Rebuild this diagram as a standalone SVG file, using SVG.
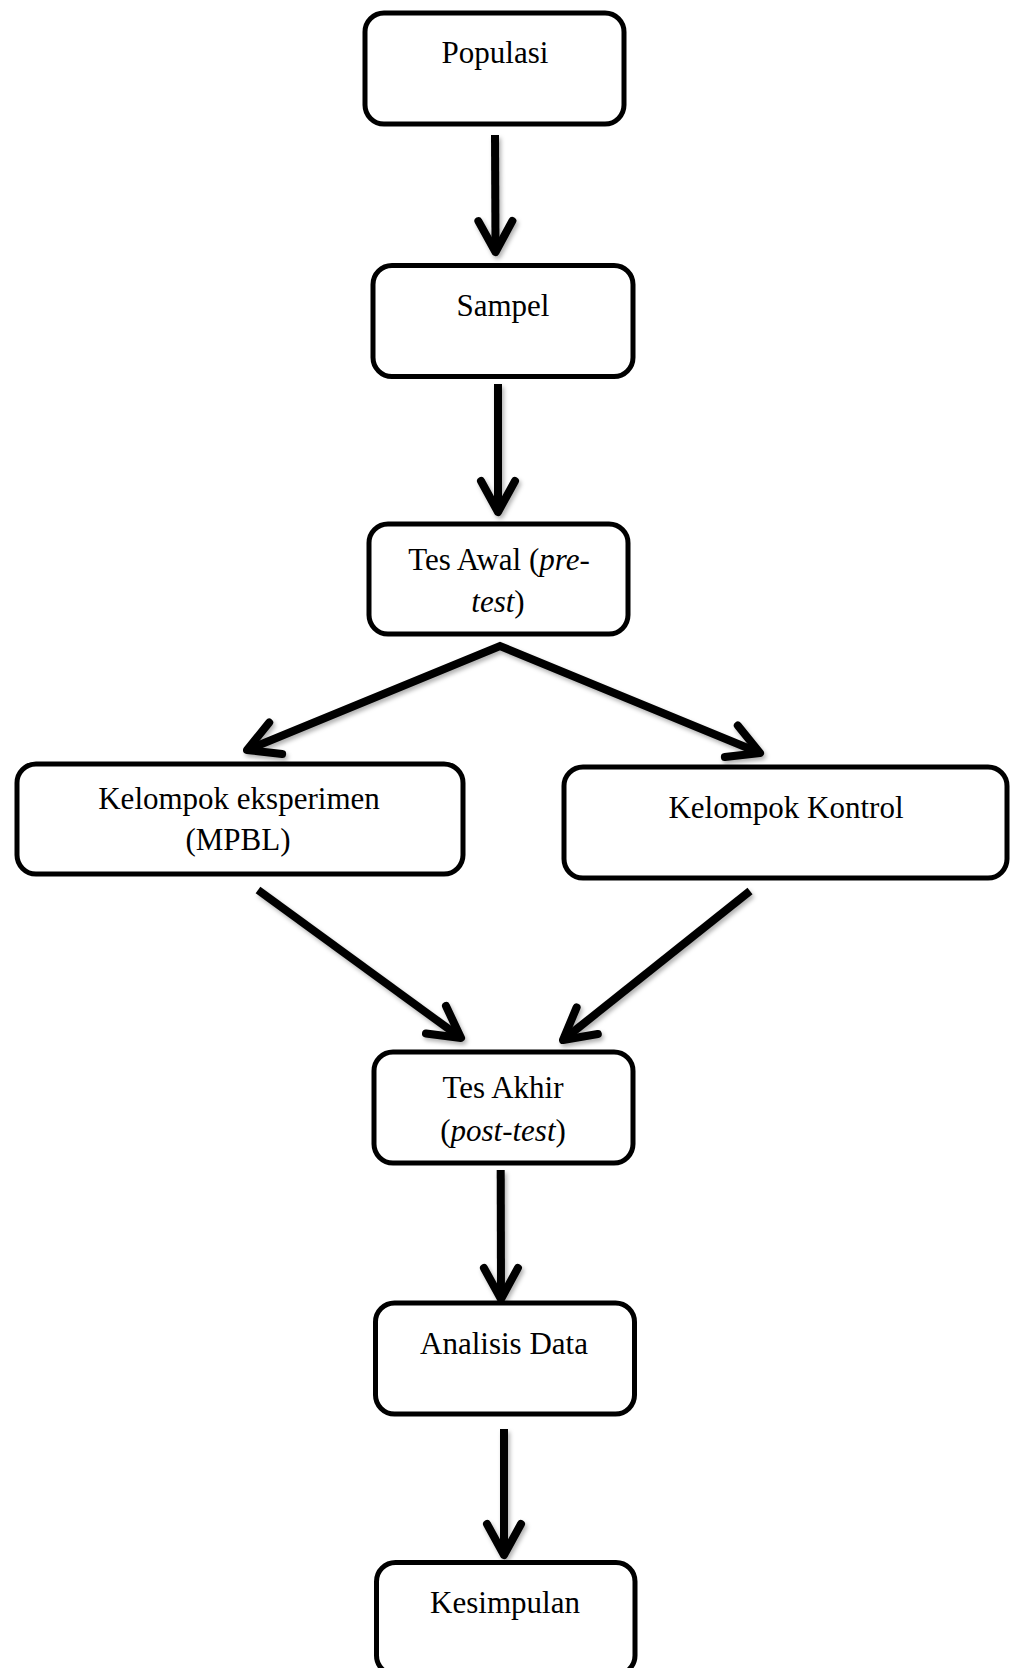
<svg xmlns="http://www.w3.org/2000/svg" width="1011" height="1668" viewBox="0 0 1011 1668">
<style>
.box{fill:#fff;stroke:#000;stroke-width:5}
.lbl{font-family:"Liberation Serif","Times New Roman",serif;font-size:31px;fill:#000;text-anchor:middle}
.it{font-style:italic}
.arr{fill:none;stroke:#000;stroke-width:8;stroke-linecap:butt;stroke-linejoin:miter;marker-end:url(#head)}
</style>
<defs>
<filter id="sh" filterUnits="userSpaceOnUse" x="0" y="0" width="1011" height="1668">
<feDropShadow dx="2" dy="3" stdDeviation="2" flood-color="#000" flood-opacity="0.3"/>
</filter>
<marker id="head" viewBox="-45 -25 55 50" markerWidth="55" markerHeight="50" refX="-4" refY="0" orient="auto-start-reverse" markerUnits="userSpaceOnUse">
<path d="M-31,-17 L0,0 L-31,17" fill="none" stroke="#000" stroke-width="8" stroke-linecap="round" stroke-linejoin="round"/>
</marker>
</defs>
<rect width="1011" height="1668" fill="#fff"/>
<g id="connectors" filter="url(#sh)">
<path class="arr" d="M495,135 L495.5,248"/>
<path class="arr" d="M498,384 L498,508"/>
<path class="arr" style="marker-start:url(#head)" d="M250.7,748.5 L500,646 L756.3,751.5"/>
<path class="arr" d="M258,890 L457.8,1035.6"/>
<path class="arr" d="M750,891 L566.1,1037.5"/>
<path class="arr" d="M500.7,1170 L501,1295"/>
<path class="arr" d="M504,1429 L504,1551"/>
</g>
<g id="populasi">
<rect class="box" x="365" y="13" width="259" height="111" rx="19"/>
<text class="lbl" x="495" y="63">Populasi</text>
</g>
<g id="sampel">
<rect class="box" x="373" y="265.5" width="260" height="111" rx="19"/>
<text class="lbl" x="503" y="316">Sampel</text>
</g>
<g id="tes-awal">
<rect class="box" x="369" y="524" width="259" height="110" rx="19"/>
<text class="lbl" x="499" y="570">Tes Awal (<tspan class="it">pre-</tspan></text>
<text class="lbl" x="498" y="612"><tspan class="it">test</tspan>)</text>
</g>
<g id="kelompok-eksperimen">
<rect class="box" x="17" y="764" width="446" height="110" rx="19"/>
<text class="lbl" x="239" y="809">Kelompok eksperimen</text>
<text class="lbl" x="238" y="850">(MPBL)</text>
</g>
<g id="kelompok-kontrol">
<rect class="box" x="564" y="767" width="443" height="111" rx="19"/>
<text class="lbl" x="786" y="818">Kelompok Kontrol</text>
</g>
<g id="tes-akhir">
<rect class="box" x="374" y="1052" width="259" height="111" rx="19"/>
<text class="lbl" x="503" y="1098">Tes Akhir</text>
<text class="lbl" x="503" y="1141">(<tspan class="it">post-test</tspan>)</text>
</g>
<g id="analisis-data">
<rect class="box" x="375.5" y="1303" width="259" height="111" rx="19"/>
<text class="lbl" x="504" y="1354">Analisis Data</text>
</g>
<g id="kesimpulan">
<rect class="box" x="376.5" y="1562.5" width="258.5" height="112" rx="19"/>
<text class="lbl" x="505" y="1613">Kesimpulan</text>
</g>
</svg>
